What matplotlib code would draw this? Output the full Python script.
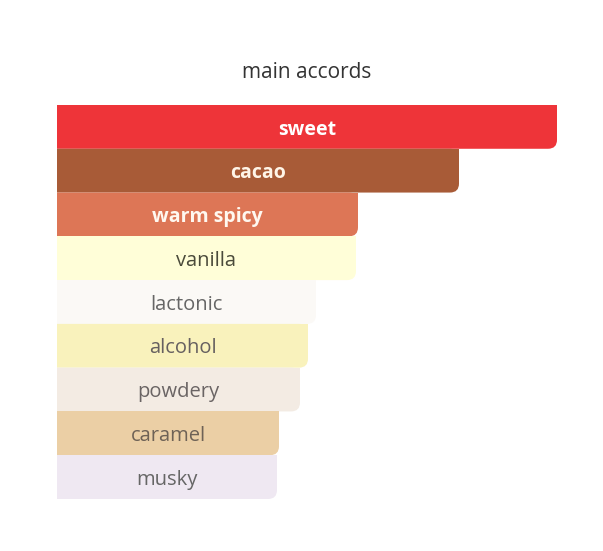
import matplotlib
matplotlib.use("Agg")
import matplotlib.pyplot as plt
from matplotlib.patches import FancyBboxPatch, Rectangle

accords = ["sweet", "cacao", "warm spicy", "vanilla", "lactonic", "alcohol",
           "powdery", "caramel", "musky"]
values = [100.0, 80.4, 60.2, 59.8, 51.8, 50.2, 48.6, 44.4, 44.0]
colors = ["#EE3439", "#A85B37", "#DD7656", "#FFFED8", "#FBF9F6", "#F9F2BC",
          "#F3EBE3", "#EBCFA5", "#EFE8F2"]
text_colors = ["#FFFFFF", "#FFF5E8", "#FFF8F0", "#4A4A3A", "#666666", "#666060",
               "#6A6464", "#6E6256", "#666666"]
bold = [True, True, True, False, False, False, False, False, False]

W, H = 603, 551
fig = plt.figure(figsize=(W / 100, H / 100), dpi=100)
fig.patch.set_facecolor("white")
ax = fig.add_axes([57 / W, (H - 499) / H, 500 / W, (499 - 105) / H])
ax.set_xlim(0, 100)
ax.set_ylim(len(accords) - 0.5, -0.5)
ax.axis("off")

FONT = ["Open Sans", "DejaVu Sans"]
bars = ax.barh(range(len(accords)), values, height=1.0, color=colors)
rpx = 9
rx = rpx * 100 / 500
ry = rpx * 9 / 394
for i, b in enumerate(bars):
    b.set_visible(False)
    x0, y0 = b.get_x(), b.get_y()
    w, h = b.get_width(), b.get_height()
    p = FancyBboxPatch((x0 - 5, y0 + ry), w + 5 - rx, h - 2 * ry,
                       boxstyle=f"round,pad={rx}",
                       mutation_aspect=ry / rx,
                       facecolor=colors[i], edgecolor="none", zorder=2,
                       clip_on=True)
    ax.add_patch(p)
    # square off the top-right corner
    ax.add_patch(Rectangle((x0, y0), w, h / 2, facecolor=colors[i],
                           edgecolor="none", zorder=2))
    ax.text(w / 2, i + 0.06, accords[i], ha="center", va="center",
            fontsize=14 if bold[i] else 14.5, family=FONT,
            fontweight="bold" if bold[i] else "normal",
            color=text_colors[i], zorder=3)

fig.text(307 / W, 1 - 73 / H, "main accords", ha="center", va="center",
         fontsize=15, family=FONT, color="#333333")

fig.savefig("out.png", dpi=100, facecolor="white")
